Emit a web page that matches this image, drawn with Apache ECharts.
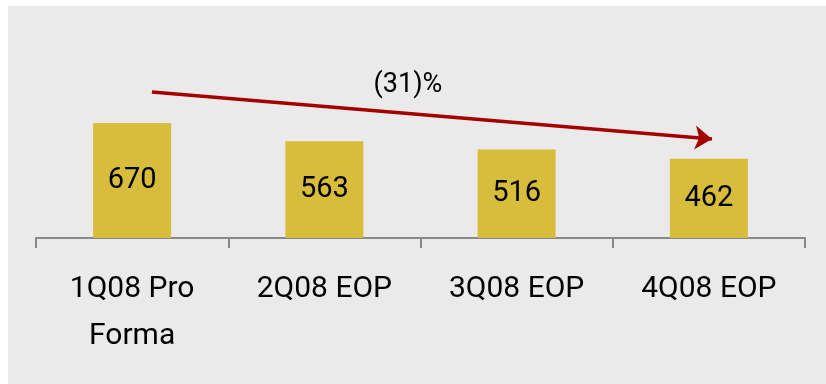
<!DOCTYPE html>
<html>
<head>
<meta charset="utf-8">
<script src="https://cdn.jsdelivr.net/npm/echarts@6/dist/echarts.min.js"></script>
<style>
html,body{margin:0;padding:0;background:#ffffff;}
#chart{position:absolute;left:8px;top:6px;width:818px;height:378px;background:#eaeaea;}
</style>
</head>
<body>
<div id="chart"></div>
<script>
const categories = ['1Q08 Pro\nForma', '2Q08 EOP', '3Q08 EOP', '4Q08 EOP'];
const values = [670, 563, 516, 462];
// Trend arrow annotation (x in category-index units, y in value units)
const arrowStart = [0.603, 850];
const arrowEnd = [3.516, 577];
const changeText = '(31)%';
const changeLabelPos = [1.935, 891];

const FONT = 'Tahoma, Roboto, sans-serif';
const chart = echarts.init(document.getElementById('chart'));
chart.setOption({
  animation: false,
  backgroundColor: '#eaeaea',
  grid: {left: 28, right: 21, top: 26, bottom: 146},
  xAxis: [{
    type: 'category',
    data: categories,
    boundaryGap: true,
    axisLine: {lineStyle: {color: '#888888', width: 2}},
    axisTick: {show: true, length: 10, lineStyle: {color: '#888888', width: 2}},
    axisLabel: {color: '#000', fontSize: 30, fontFamily: FONT, lineHeight: 47, margin: 28, interval: 0}
  }, {
    type: 'value', min: 0, max: 4, show: false, position: 'bottom'
  }],
  yAxis: {type: 'value', min: 0, max: 1200, show: false, splitLine: {show: false}},
  series: [{
    type: 'bar',
    data: values,
    barWidth: 78,
    itemStyle: {color: '#d8bc3b'},
    label: {show: true, position: 'inside', color: '#000', fontSize: 29, fontFamily: FONT}
  }, {
    type: 'scatter',
    xAxisIndex: 1,
    data: [changeLabelPos],
    symbolSize: 0,
    itemStyle: {opacity: 1, color: '#000'},
    label: {show: true, position: 'inside', formatter: changeText, color: '#000', opacity: 1, fontSize: 27, fontFamily: FONT},
    markLine: {
      silent: true,
      symbol: ['none', 'arrow'],
      symbolSize: [18, 17],
      lineStyle: {color: '#a50000', width: 3.5, type: 'solid', opacity: 1},
      label: {show: false},
      data: [[{coord: arrowStart}, {coord: arrowEnd}]]
    }
  }]
});
</script>
</body>
</html>
